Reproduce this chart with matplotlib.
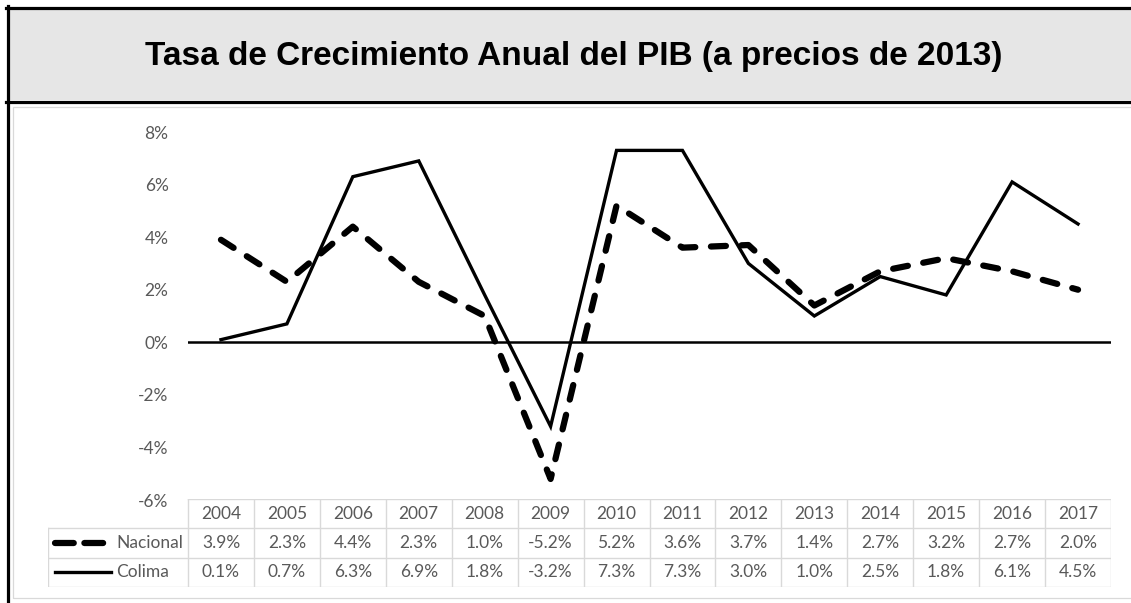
import numpy as np
import matplotlib.pyplot as plt
from matplotlib.lines import Line2D
from matplotlib.patches import Rectangle

years = ["2004", "2005", "2006", "2007", "2008", "2009", "2010",
         "2011", "2012", "2013", "2014", "2015", "2016", "2017"]
nacional = [3.9, 2.3, 4.4, 2.3, 1.0, -5.2, 5.2, 3.6, 3.7, 1.4, 2.7, 3.2, 2.7, 2.0]
colima = [0.1, 0.7, 6.3, 6.9, 1.8, -3.2, 7.3, 7.3, 3.0, 1.0, 2.5, 1.8, 6.1, 4.5]
series_names = ["Nacional", "Colima"]
yticks = [-6, -4, -2, 0, 2, 4, 6, 8]
title = "Tasa de Crecimiento Anual del PIB (a precios de 2013)"

W, H = 1131, 603
TXT = "#595959"
GRID = "#d9d9d9"


def fx(px):
    return px / W


def fy(py):
    return 1 - py / H


def main():
    fig = plt.figure(figsize=(W / 100, H / 100), dpi=100)

    # title band and frame
    fig.add_artist(Rectangle((fx(9), fy(100)), fx(W) - fx(9), fy(9) - fy(100),
                             transform=fig.transFigure, facecolor="#e6e6e6",
                             edgecolor="none"))
    fig.add_artist(Rectangle((fx(12.5), fy(597.5)), fx(W + 5) - fx(12.5),
                             fy(106.5) - fy(597.5), transform=fig.transFigure,
                             facecolor="none", edgecolor=GRID, lw=0.9))
    for y in (7.5, 101.5):
        fig.add_artist(Line2D([fx(6), fx(W)], [fy(y), fy(y)],
                              transform=fig.transFigure, color="black", lw=2.3))
    fig.add_artist(Line2D([fx(7.5), fx(7.5)], [fy(6), fy(H)],
                          transform=fig.transFigure, color="black", lw=2.3))
    fig.text(fx(573.5), fy(56), title, ha="center", va="center",
             fontsize=24, fontweight="bold", family="Liberation Sans")

    # line chart
    ax = fig.add_axes([fx(188), fy(500), fx(1111) - fx(188), fy(132) - fy(500)])
    x = np.arange(len(years))
    ax.plot(x, nacional, color="black", lw=4.5, dash_capstyle="round",
            linestyle=(0, (2.4, 2.5)))
    ax.plot(x, colima, color="black", lw=2.4, solid_joinstyle="miter")
    ax.axhline(0, color="black", lw=1.8)
    ax.set_xlim(-0.5, len(years) - 0.5)
    ax.set_ylim(-6, 8)
    ax.set_yticks(yticks)
    ax.set_yticklabels([f"{v}%" for v in yticks], family="Lato",
                       fontsize=12.5, color=TXT)
    ax.tick_params(axis="y", length=0, pad=14)
    ax.set_xticks([])
    for s in ax.spines.values():
        s.set_visible(False)
    ax.patch.set_alpha(0)

    # data table under the chart
    colw = (1111 - 188) / len(years)
    xmin = -0.5 - (188 - 48) / colw
    tax = fig.add_axes([fx(48), fy(587), fx(1111) - fx(48), fy(499) - fy(587)])
    tax.set_xlim(xmin, len(years) - 0.5)
    tax.set_ylim(3, 0)
    tax.axis("off")
    right = len(years) - 0.5
    tax.plot([-0.5, right], [0, 0], color=GRID, lw=1)
    for r in (1, 2, 3):
        tax.plot([xmin, right], [r, r], color=GRID, lw=1)
    for i in range(len(years) + 1):
        tax.plot([i - 0.5, i - 0.5], [0, 3], color=GRID, lw=1)
    tax.plot([xmin, xmin], [1, 3], color=GRID, lw=1)

    fs = 12.5
    for i, yr in enumerate(years):
        tax.text(i, 0.5, yr, ha="center", va="center", fontsize=fs,
                 color=TXT, family="Lato")
    for r, vals in enumerate([nacional, colima], start=1):
        for i, v in enumerate(vals):
            tax.text(i, r + 0.5, f"{v:.1f}%", ha="center", va="center",
                     fontsize=fs, color=TXT, family="Lato")

    # legend keys in the row headers
    k0 = xmin + 7 / colw
    k1 = xmin + 60 / colw
    tax.plot([k0, xmin + 56 / colw], [1.5, 1.5], color="black", lw=4.5,
             dash_capstyle="round", linestyle=(0, (3.0, 1.7)))
    tax.plot([k0, k1 + 3 / colw], [2.5, 2.5], color="black", lw=2.4)
    for r, name in enumerate(series_names, start=1):
        tax.text(xmin + 68 / colw, r + 0.5, name, ha="left", va="center",
                 fontsize=fs, color=TXT, family="Lato")

    fig.savefig("out.png", dpi=100)


if __name__ == "__main__":
    main()
